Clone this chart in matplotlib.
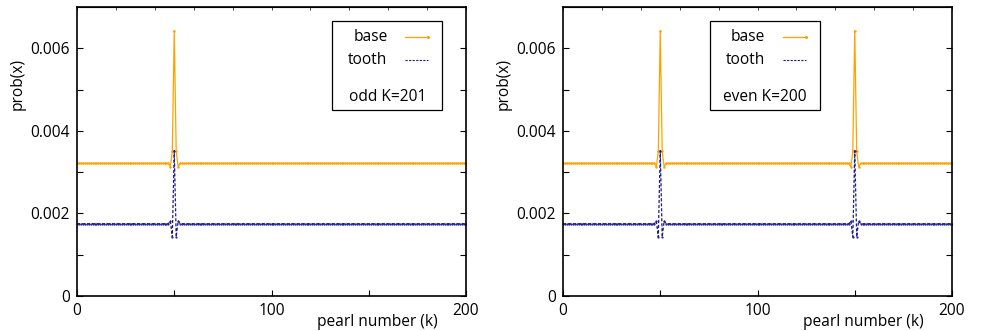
import matplotlib
matplotlib.use("Agg")
import matplotlib.pyplot as plt
from matplotlib.lines import Line2D
from matplotlib.patches import Rectangle
import numpy as np

plt.rcParams['font.family'] = ['Open Sans', 'DejaVu Sans']
plt.rcParams['font.size'] = 11.2

# flat levels
base_level = 0.00321
tooth_level = 0.00175

# values around each spike (k = centre-2 .. centre+2)
spike_offsets = [-2, -1, 0, 1, 2]
base_spike = [0.00313, 0.00350, 0.00643, 0.00350, 0.00313]
tooth_spike = [0.00182, 0.00143, 0.00352, 0.00143, 0.00182]

# odd K=201: one spike, even K=200: two spikes
k_values = np.arange(0, 201)
odd_centres = [50]
even_centres = [50, 150]

panels = [
    ("odd K=201", odd_centres),
    ("even K=200", even_centres),
]

orange = '#ffa200'
navy = '#1c1c8c'

fig = plt.figure(figsize=(9.81, 3.31), dpi=100)
axes_left = [77 / 981, 563 / 981]
ax_w = 389 / 981
ax_b = (331 - 296) / 331
ax_h = 289 / 331

for i, (label, centres) in enumerate(panels):
    base = np.full(len(k_values), base_level)
    tooth = np.full(len(k_values), tooth_level)
    for c in centres:
        for off, bv, tv in zip(spike_offsets, base_spike, tooth_spike):
            base[c + off] = bv
            tooth[c + off] = tv

    ax = fig.add_axes([axes_left[i], ax_b, ax_w, ax_h])
    ax.plot(k_values, base, color=orange, lw=0.9, marker='o', ms=0.8)
    ax.plot(k_values, tooth, color=navy, lw=0.9, ls=(0, (2.5, 1.5)), marker='o', ms=0.6)

    ax.set_xlim(0, 200)
    ax.set_ylim(0, 0.007)
    ax.set_xticks([0, 50, 100, 150, 200])
    ax.set_xticklabels(['0', '', '100', '', '200'])
    ax.set_yticks([0, 0.001, 0.002, 0.003, 0.004, 0.005, 0.006])
    ax.set_yticklabels(['0', '', '0.002', '', '0.004', '', '0.006'])
    ax.tick_params(direction='in', length=4, width=0.8, right=True, top=False,
                   labelsize=11.2, pad=5)
    sec = ax.secondary_xaxis('top')
    sec.set_xticks(np.arange(0, 201, 20))
    sec.tick_params(direction='in', length=2.5, width=0.5, labeltop=False)
    for s in ax.spines.values():
        s.set_linewidth(1.2)

    # gnuplot put the y label in the upper part of the axis
    ax.set_ylabel('prob(x)', fontsize=11.2)
    ax.yaxis.set_label_coords(-0.133, 0.733)
    ax.text(0.771, -0.09, 'pearl number (k)', transform=ax.transAxes,
            ha='center', va='center', fontsize=11.2)

    # key box in gnuplot style
    bx0 = 0.656 if i == 0 else 0.378
    ax.add_patch(Rectangle((bx0, 0.645), 0.283, 0.305, transform=ax.transAxes,
                           fill=False, lw=0.9, color='black'))
    tx = bx0 + 0.142
    ax.text(tx, 0.895, 'base', transform=ax.transAxes, ha='right', va='center')
    ax.text(tx, 0.818, 'tooth', transform=ax.transAxes, ha='right', va='center')
    ax.add_line(Line2D([bx0 + 0.187, bx0 + 0.247], [0.895, 0.895], transform=ax.transAxes,
                       color=orange, lw=0.9, marker='o', markevery=[1], ms=1.2))
    ax.add_line(Line2D([bx0 + 0.187, bx0 + 0.247], [0.818, 0.818], transform=ax.transAxes,
                       color=navy, lw=0.8, ls=(0, (2, 1.2))))
    ax.text(bx0 + 0.1415, 0.69, label, transform=ax.transAxes, ha='center', va='center')

fig.savefig('out.png', dpi=100)
